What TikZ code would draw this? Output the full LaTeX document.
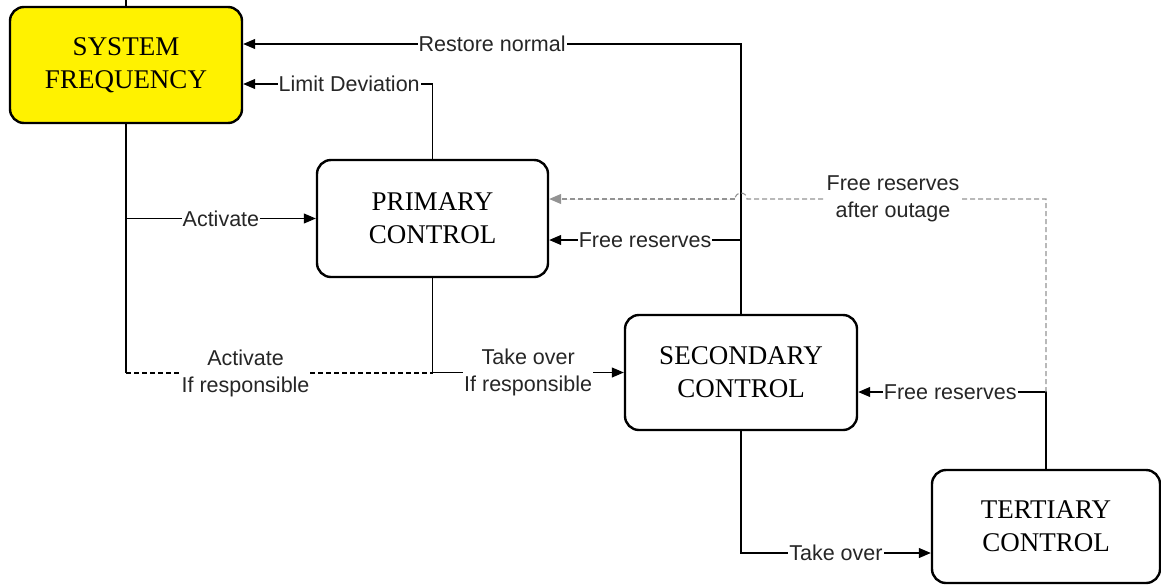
\documentclass[tikz,border=0pt]{standalone}
\usepackage{fontspec}
\setmainfont{Liberation Serif}
\newfontfamily\labfont{Liberation Sans}
\usetikzlibrary{arrows.meta}
\begin{document}
\begin{tikzpicture}[x=1pt,y=-1pt,
  box/.style={draw, line width=2.4pt, rounded corners=14pt, align=center,
    font=\fontsize{27}{33}\selectfont, inner sep=0pt},
  conn/.style={line width=1.1pt},
  arr/.style={conn, -{Triangle[length=12pt,width=10pt]}},
  lab/.style={fill=white, font=\labfont\fontsize{21.5}{27}\selectfont, align=center,
    inner xsep=1pt, inner ysep=0pt, text=black!85},
  dsh/.style={line width=1.1pt, dash pattern=on 5pt off 3pt, draw=gray!85},
  darr/.style={dsh, -{Triangle[length=12pt,width=10pt]}, fill=gray!85}
]
\useasboundingbox (0,0) rectangle (1161,587);

% boxes
\node[box, fill=yellow, minimum width=232pt, minimum height=116pt] (sf) at (126,65) {SYSTEM\\FREQUENCY};
\node[box, minimum width=231pt, minimum height=117pt] (pri) at (432.5,218.5) {PRIMARY\\CONTROL};
\node[box, minimum width=232pt, minimum height=115pt] (sec) at (741,372.5) {SECONDARY\\CONTROL};
\node[box, minimum width=228pt, minimum height=113pt] (ter) at (1046,526.5) {TERTIARY\\CONTROL};

% stub above system frequency
\coordinate (top) at (sf.north |- 0,0);
\draw[conn] (top) -- (sf.north);

% Restore normal
\draw[arr] (sec.north) |- node[lab, pos=0.75] {Restore normal} (sf.east |- 0,44);
% Limit deviation
\draw[arr] (pri.north) |- node[lab, pos=0.72] {Limit Deviation} (sf.east |- 0,84);

% Activate
\coordinate (ab) at (sf.south |- 0,373);
\coordinate (aa) at (sf.south |- pri.west);
\draw[conn] (sf.south) -- (ab);
\draw[arr] (aa) -- node[lab] {Activate} (pri.west);

% Activate if responsible (dashed)
\coordinate (pb) at (pri.south |- 0,373);
\draw[conn, dash pattern=on 5pt off 3pt] (ab) -- node[lab, pos=0.39] {Activate\\If responsible} (pb);
% Take over if responsible
\draw[arr] (pri.south) |- node[lab, pos=0.75] {Take over\\If responsible} (sec.west);

% Free reserves to primary
\coordinate (fr1) at (sec.north |- 0,240);
\draw[arr] (fr1) -- node[lab] {Free reserves} (pri.east |- 0,240);

% Take over (to tertiary)
\draw[arr] (sec.south) |- node[lab, pos=0.75] {Take over} (ter.west |- 0,553);

% Free reserves to secondary
\coordinate (fr2) at (ter.north |- 0,392);
\draw[arr] (ter.north) |- node[lab, pos=0.755] {Free reserves} (sec.east |- 0,392);

% Free reserves after outage (dashed with hop)
\coordinate (dc) at (ter.north |- 0,199);
\coordinate (hopR) at (747,199);
\draw[dsh] (fr2) -- (dc) -- (hopR) arc[start angle=0, end angle=180, radius=6pt];
\draw[darr] (735,199) -- (pri.east |- 0,199);
\node[lab] (fra) at (893,199) {Free reserves\\after outage};
\end{tikzpicture}
\end{document}
